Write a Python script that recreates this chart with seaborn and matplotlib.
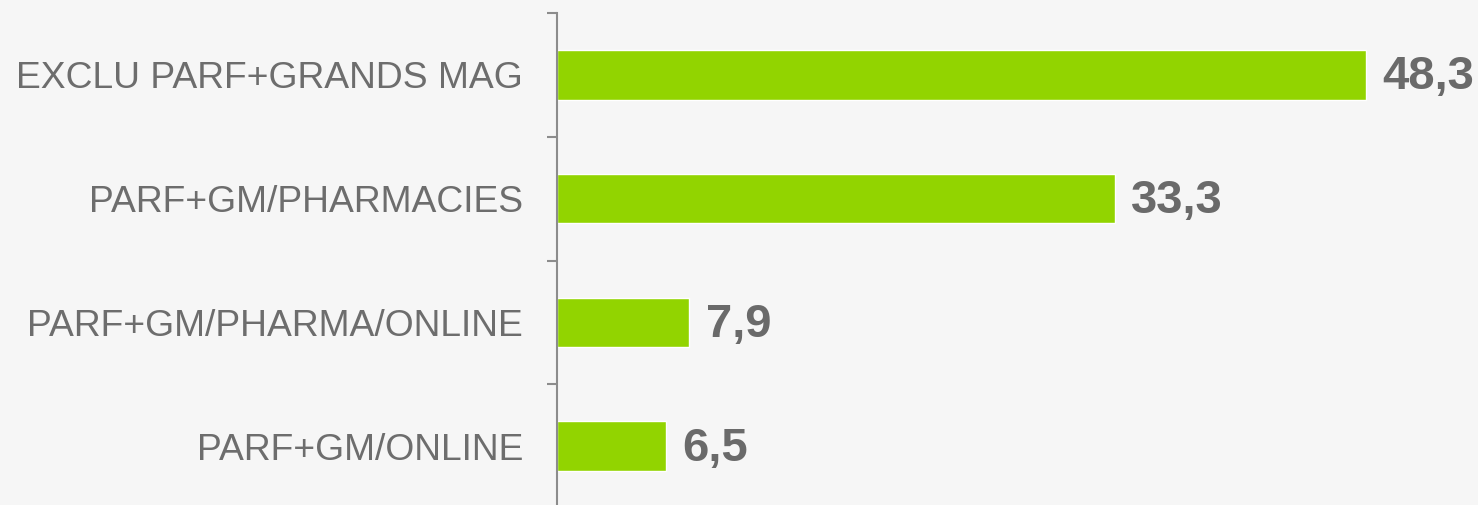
import numpy as np
import pandas as pd
import seaborn as sns
import matplotlib.pyplot as plt

# canaux de distribution et part (%)
canaux = ['EXCLU PARF+GRANDS MAG', 'PARF+GM/PHARMACIES',
          'PARF+GM/PHARMA/ONLINE', 'PARF+GM/ONLINE']
valeurs = [48.3, 33.3, 7.9, 6.5]
etiquettes = ['48,3', '33,3', '7,9', '6,5']

df = pd.DataFrame({'canal': canaux, 'valeur': valeurs})

sns.set_style('white')
plt.rcParams['font.family'] = ['Liberation Sans', 'DejaVu Sans']

fig = plt.figure(figsize=(14.78, 5.05), dpi=100, facecolor='#f6f6f6')
ax = fig.add_axes([557 / 1478, -3 / 505, 1 - 557 / 1478, 1 - 13 / 505 + 3 / 505])
ax.set_facecolor('#f6f6f6')

sns.barplot(data=df, x='valeur', y='canal', color='#92D400', saturation=1,
            width=0.4, ax=ax)

for i, (v, t) in enumerate(zip(valeurs, etiquettes)):
    ax.text(v + 1.0, i + 0.02, t, va='center', ha='left', fontsize=34,
            fontweight='bold', color='#6a6a6a')

ax.set_xlim(0, 55)
ax.set_ylim(3.5, -0.5)
ax.set_xlabel('')
ax.set_ylabel('')
ax.set_xticks([])
ax.set_yticks(np.arange(-0.5, 4.0, 1.0), minor=True)
ax.tick_params(axis='y', which='major', length=0, labelsize=26.8,
               labelcolor='#6d6d6d', pad=24.5)
ax.tick_params(axis='y', which='minor', length=7, width=1.5, color='#8c8c8c',
               direction='out', left=True)
for s in ['top', 'right', 'bottom']:
    ax.spines[s].set_visible(False)
ax.spines['left'].set_color('#8c8c8c')
ax.spines['left'].set_linewidth(1.5)

fig.savefig('out.png', dpi=100, facecolor=fig.get_facecolor())
